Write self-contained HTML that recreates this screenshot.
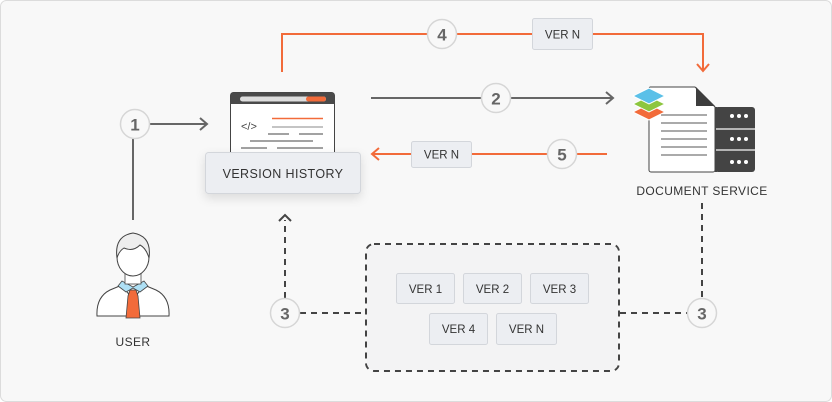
<!DOCTYPE html>
<html><head><meta charset="utf-8"><style>
html,body{margin:0;padding:0;background:#fff;}
svg{display:block;}
text{font-family:"Liberation Sans",sans-serif;}
</style></head><body>
<svg width="832" height="402" viewBox="0 0 832 402" xmlns="http://www.w3.org/2000/svg">
<defs>
<filter id="sh" x="-20%" y="-30%" width="140%" height="180%"><feDropShadow dx="0" dy="4" stdDeviation="5" flood-color="#000" flood-opacity="0.12"/></filter>
</defs>
<rect x="0.5" y="0.5" width="831" height="401" rx="6" fill="#f8f8f8" stroke="#dcdcdc"/>

<!-- step 1 -->
<line x1="133" y1="139" x2="133" y2="220" stroke="#666" stroke-width="2"/>
<line x1="150" y1="124" x2="206" y2="124" stroke="#666" stroke-width="2"/>
<polyline points="200,118 207,124 200,130" fill="none" stroke="#666" stroke-width="2"/>
<circle cx="135" cy="124" r="14.5" fill="#f8f8f8" stroke="#d6d6d6" stroke-width="1.5"/>
<text x="135" y="130.5" font-size="17" font-weight="bold" fill="#666" text-anchor="middle">1</text>

<!-- step 4 -->
<polyline points="282,72 282,34 703,34 703,70" fill="none" stroke="#f26b3a" stroke-width="2"/>
<polyline points="697,64 703,71 709,64" fill="none" stroke="#f26b3a" stroke-width="2"/>
<circle cx="442" cy="34" r="14.5" fill="#f8f8f8" stroke="#d6d6d6" stroke-width="1.5"/>
<text x="442" y="40.5" font-size="17" font-weight="bold" fill="#666" text-anchor="middle">4</text>
<rect x="532.5" y="18.5" width="60" height="31" rx="2" fill="#eceef2" stroke="#d3d6db"/>
<text x="562.5" y="38.5" font-size="11.5" fill="#333" text-anchor="middle">VER N</text>

<!-- step 2 -->
<line x1="371" y1="98" x2="612" y2="98" stroke="#666" stroke-width="2"/>
<polyline points="606,92 613,98 606,104" fill="none" stroke="#666" stroke-width="2"/>
<circle cx="496" cy="98" r="14.5" fill="#f8f8f8" stroke="#d6d6d6" stroke-width="1.5"/>
<text x="496" y="104.5" font-size="17" font-weight="bold" fill="#666" text-anchor="middle">2</text>

<!-- step 5 -->
<line x1="373" y1="154" x2="607" y2="154" stroke="#f26b3a" stroke-width="2"/>
<polyline points="379,148 372,154 379,160" fill="none" stroke="#f26b3a" stroke-width="2"/>
<circle cx="562" cy="154" r="14.5" fill="#f8f8f8" stroke="#d6d6d6" stroke-width="1.5"/>
<text x="562" y="160.5" font-size="17" font-weight="bold" fill="#666" text-anchor="middle">5</text>
<rect x="411.5" y="141.5" width="60" height="26" rx="2" fill="#eceef2" stroke="#d3d6db"/>
<text x="441.5" y="158.5" font-size="11.5" fill="#333" text-anchor="middle">VER N</text>

<!-- browser window -->
<rect x="230.5" y="92.5" width="104" height="70" rx="3" fill="#fff" stroke="#444"/>
<path d="M230.5 104 V95.5 a3 3 0 0 1 3 -3 h98 a3 3 0 0 1 3 3 V104 Z" fill="#4a4a4a"/>
<rect x="240" y="96.5" width="86" height="5" rx="2.5" fill="#ddd"/>
<rect x="306" y="96.5" width="20" height="5" rx="2.5" fill="#f26b3a"/>
<text x="241" y="130" font-size="11" fill="#444" font-family="Liberation Mono, monospace">&lt;/&gt;</text>
<line x1="272" y1="118.5" x2="323" y2="118.5" stroke="#f26b3a" stroke-width="1.5"/>
<line x1="272" y1="127" x2="323" y2="127" stroke="#888" stroke-width="1"/>
<line x1="268" y1="134" x2="289" y2="134" stroke="#444" stroke-width="1"/>
<line x1="299" y1="134" x2="323" y2="134" stroke="#444" stroke-width="1"/>
<line x1="250" y1="141" x2="313" y2="141" stroke="#444" stroke-width="1"/>
<line x1="241" y1="148" x2="267" y2="148" stroke="#444" stroke-width="1"/>
<line x1="277" y1="148" x2="323" y2="148" stroke="#444" stroke-width="1"/>
<rect x="205.5" y="152.5" width="155" height="41" rx="3" fill="#eceef2" stroke="#d3d6db" filter="url(#sh)"/>
<text x="283" y="178" font-size="12.5" fill="#333" text-anchor="middle" letter-spacing="0.4">VERSION HISTORY</text>

<!-- document service -->
<path d="M650 87 H695 L715 107 V170 a2 2 0 0 1 -2 2 H651 a2 2 0 0 1 -2 -2 V89 a2 2 0 0 1 1 -2Z" fill="#fff" stroke="#444" stroke-width="1"/>
<path d="M696 87 L715 106 H696Z" fill="#3d3d3d"/>
<rect x="715" y="107" width="40" height="65" rx="3" fill="#444"/>
<rect x="715" y="107" width="2" height="65" fill="#444"/>
<line x1="716" y1="129" x2="755" y2="129" stroke="#f8f8f8" stroke-width="1.2"/>
<line x1="716" y1="150" x2="755" y2="150" stroke="#f8f8f8" stroke-width="1.2"/>
<g fill="#fff"><circle cx="732" cy="116" r="2"/><circle cx="739" cy="116" r="2"/><circle cx="746" cy="116" r="2"/>
<circle cx="732" cy="139" r="2"/><circle cx="739" cy="139" r="2"/><circle cx="746" cy="139" r="2"/>
<circle cx="732" cy="162" r="2"/><circle cx="739" cy="162" r="2"/><circle cx="746" cy="162" r="2"/></g>
<g stroke="#777" stroke-width="1.3"><line x1="661" y1="115" x2="707" y2="115"/><line x1="661" y1="123" x2="707" y2="123"/><line x1="661" y1="131" x2="707" y2="131"/><line x1="661" y1="139" x2="707" y2="139"/><line x1="661" y1="147" x2="707" y2="147"/><line x1="661" y1="155" x2="707" y2="155"/></g>
<path d="M633 112 L649 104 L665 112 L649 120Z" fill="#f26b3a" stroke="#fff" stroke-width="1"/>
<path d="M633 104 L649 96 L665 104 L649 112Z" fill="#8dc63f" stroke="#fff" stroke-width="1"/>
<path d="M633 96 L649 88 L665 96 L649 104Z" fill="#5bc0e8" stroke="#fff" stroke-width="1"/>
<text x="702" y="195" font-size="12" fill="#333" text-anchor="middle" letter-spacing="0.4">DOCUMENT SERVICE</text>

<!-- step 3 -->
<g stroke="#444" stroke-width="2" stroke-dasharray="6,5" fill="none">
<line x1="702" y1="203" x2="702" y2="298"/>
<line x1="620" y1="313" x2="687" y2="313"/>
<line x1="300" y1="313" x2="365" y2="313"/>
<line x1="285" y1="298" x2="285" y2="220"/>
<rect x="366" y="244" width="253" height="127" rx="8"/>
</g>
<polyline points="279,221 285,215 291,221" fill="none" stroke="#444" stroke-width="2"/>
<rect x="367" y="245" width="251" height="125" rx="7" fill="#f3f3f4"/>
<circle cx="285" cy="313" r="14.5" fill="#f8f8f8" stroke="#d6d6d6" stroke-width="1.5"/>
<text x="285" y="319.5" font-size="17" font-weight="bold" fill="#666" text-anchor="middle">3</text>
<circle cx="702" cy="313" r="14.5" fill="#f8f8f8" stroke="#d6d6d6" stroke-width="1.5"/>
<text x="702" y="319.5" font-size="17" font-weight="bold" fill="#666" text-anchor="middle">3</text>

<g font-size="11.5" fill="#333" text-anchor="middle">
<rect x="396.5" y="273.5" width="58" height="30" rx="2" fill="#eceef2" stroke="#d3d6db"/><text x="425.5" y="293">VER 1</text>
<rect x="463.5" y="273.5" width="58" height="30" rx="2" fill="#eceef2" stroke="#d3d6db"/><text x="492.5" y="293">VER 2</text>
<rect x="530.5" y="273.5" width="58" height="30" rx="2" fill="#eceef2" stroke="#d3d6db"/><text x="559.5" y="293">VER 3</text>
<rect x="429.5" y="313.5" width="58" height="31" rx="2" fill="#eceef2" stroke="#d3d6db"/><text x="458.5" y="333">VER 4</text>
<rect x="496.5" y="313.5" width="60" height="31" rx="2" fill="#eceef2" stroke="#d3d6db"/><text x="526.5" y="333">VER N</text>
</g>

<!-- user -->
<path d="M97 316 Q96 297 110 290 L122 285 L133 300 L144 285 L156 290 Q170 297 169 316 Z" fill="#fff" stroke="#444" stroke-width="1"/>
<path d="M118 286 L122 281 L133 287 L144 281 L148 286 L140 292 L133 288 L126 292Z" fill="#aee0f5" stroke="#444" stroke-width="0.8"/>
<path d="M130 290 L136 290 L138 296 L140 318 L126 318 L128 296Z" fill="#f26b3a" stroke="#444" stroke-width="0.8"/>
<rect x="125" y="268" width="16" height="16" fill="#fff" stroke="#444" stroke-width="0.8"/>
<ellipse cx="133" cy="257" rx="16" ry="19" fill="#fff" stroke="#444" stroke-width="1"/>
<path d="M117 258 Q114 236 133 233 Q152 236 149 258 Q146 248 140 245 Q133 252 124 248 Q119 251 117 258Z" fill="#eee" stroke="#444" stroke-width="1"/>
<text x="133" y="346" font-size="12" fill="#333" text-anchor="middle" letter-spacing="0.4">USER</text>
</svg>
</body></html>
